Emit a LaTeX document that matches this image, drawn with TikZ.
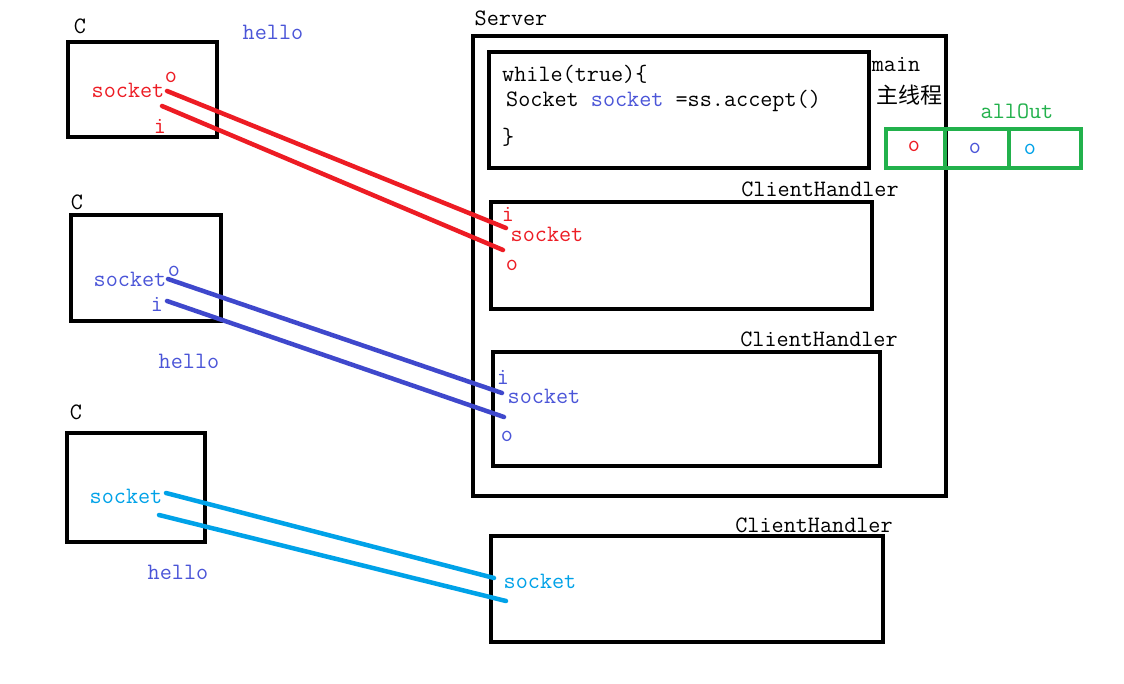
\documentclass[tikz,border=0pt]{standalone}
\usepackage{fontspec}
\newfontfamily\cjkfont{Noto Sans CJK SC}
\definecolor{cred}{HTML}{ED1C24}
\definecolor{cblue}{HTML}{3F48CC}
\definecolor{tblue}{HTML}{4B55D8}
\definecolor{clight}{HTML}{00A2E8}
\definecolor{cgreen}{HTML}{22B14C}
\tikzset{
  box/.style={draw=black,line width=4.5pt},
  gbox/.style={draw=cgreen,line width=4pt},
  txt/.style={inner sep=0pt,font=\fontsize{23.5}{26}\selectfont\ttfamily},
  wire/.style={line width=4.5pt,line cap=round},
}
\begin{document}
\begin{tikzpicture}[x=1pt,y=-1pt]
\useasboundingbox (0,0) rectangle (1124,684);
\fill[white] (0,0) rectangle (1124,684);
% clients
\draw[box] (68,42) rectangle (217,137);
\draw[box] (71,215) rectangle (221,321);
\draw[box] (67,433) rectangle (205,542);
\node[txt] (c1) at (80,26) {C};
\node[txt] (c2) at (77,202) {C};
\node[txt] (c3) at (76,412) {C};
\node[txt,text=tblue] (h1) at (273,32) {hello};
\node[txt,text=tblue] (h2) at (189,361) {hello};
\node[txt,text=tblue] (h3) at (178,572) {hello};
\node[txt,text=cred] (s1) at (128,90) {socket};
\node[txt,text=cred] (o1) at (171,77) {o};
\node[txt,text=cred] (i1) at (160,126) {i};
\node[txt,text=tblue] (s2) at (130,279) {socket};
\node[txt,text=tblue] (o2) at (174,271) {o};
\node[txt,text=tblue] (i2) at (157,304) {i};
\node[txt,text=clight] (s3) at (126,496) {socket};
% server
\draw[box] (473,36) rectangle (946,496);
\node[txt] (srv) at (511,18) {Server};
\draw[box] (489,52) rectangle (869,168);
\node[txt,anchor=west] (w1) at (502,74) {while(true)\{};
\node[txt,anchor=west] (w2) at (506,101) {Socket \textcolor{tblue}{socket} =ss.accept()};
\node[txt,anchor=west] (w3) at (502,137) {\}};
\node[txt] (mn) at (896,65) {main};
\node[inner sep=0pt,font=\fontsize{22}{24}\selectfont\cjkfont] (zx) at (909,95) {主线程};
% allOut
\node[txt,text=cgreen] (ao) at (1017,111) {allOut};
\draw[gbox] (886,129) rectangle (1081,168);
\draw[gbox] (945,129) -- (945,168);
\draw[gbox] (1009,129) -- (1009,168);
\node[txt,text=cred] (a1) at (914,146) {o};
\node[txt,text=tblue] (a2) at (975,148) {o};
\node[txt,text=clight] (a3) at (1030,149) {o};
% client handlers
\node[txt] (ch1) at (820,189) {ClientHandler};
\draw[box] (491,202) rectangle (872,309);
\node[txt,text=cred] (hi1) at (508,214) {i};
\node[txt,text=cred] (hs1) at (547,234) {socket};
\node[txt,text=cred] (ho1) at (512,265) {o};
\node[txt] (ch2) at (819,339) {ClientHandler};
\draw[box] (493,352) rectangle (880,466);
\node[txt,text=tblue] (hi2) at (503,377) {i};
\node[txt,text=tblue] (hs2) at (544,396) {socket};
\node[txt,text=tblue] (ho2) at (507,436) {o};
\node[txt] (ch3) at (814,525) {ClientHandler};
\draw[box] (491,536) rectangle (883,642);
\node[txt,text=clight] (hs3) at (540,581) {socket};
% wires
\coordinate (r1a) at (167,91);  \coordinate (r1b) at (506,228);
\coordinate (r2a) at (162,106); \coordinate (r2b) at (503,250);
\coordinate (b1a) at (168,279); \coordinate (b1b) at (502,393);
\coordinate (b2a) at (167,301); \coordinate (b2b) at (504,417);
\coordinate (l1a) at (166,493); \coordinate (l1b) at (494,578);
\coordinate (l2a) at (159,515); \coordinate (l2b) at (506,601);
\draw[wire,cred] (r1a) -- (r1b);
\draw[wire,cred] (r2a) -- (r2b);
\draw[wire,cblue] (b1a) -- (b1b);
\draw[wire,cblue] (b2a) -- (b2b);
\draw[wire,clight] (l1a) -- (l1b);
\draw[wire,clight] (l2a) -- (l2b);
\end{tikzpicture}
\end{document}
